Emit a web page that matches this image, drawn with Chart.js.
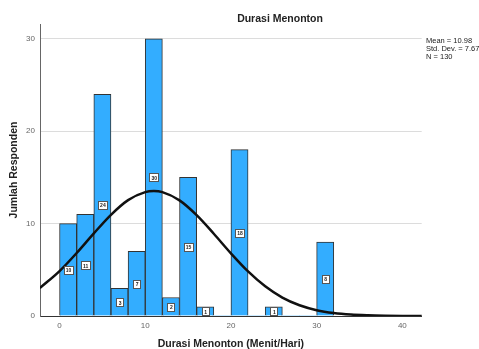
<!DOCTYPE html>
<html><head><meta charset="utf-8">
<script src="https://cdn.jsdelivr.net/npm/chart.js@4/dist/chart.umd.min.js"></script>
<style>
html,body{margin:0;padding:0;background:#fff;}
#wrap{position:relative;width:479px;height:349px;overflow:hidden;}
#title{position:absolute;left:200px;width:160px;top:12px;text-align:center;font:bold 10.5px "Liberation Sans",Arial,sans-serif;color:#222;white-space:nowrap;}
#stats{position:absolute;left:426px;top:37px;font:7.5px "Liberation Sans",Arial,sans-serif;line-height:7.8px;color:#222;white-space:nowrap;}
canvas{position:absolute;left:0;top:0;}
</style>
</head><body>
<div id="wrap">
<canvas id="c" width="479" height="349"></canvas>
<div id="title">Durasi Menonton</div>
<div id="stats">Mean = 10.98<br>Std. Dev. = 7.674<br>N = 130</div>
</div>
<script>
// Histogram bins (2-minute width), centers and counts
const binCenters = [1,3,5,7,9,11,13,15,17,19,21,23,25,27,29,31];
const counts = [10,11,24,3,7,30,2,15,1,0,18,0,1,0,0,8];
// Normal curve points
const curveX = [-2.3,0,2,4,6,8,10,11,12,14,16,18,20,22,24,26,28,30,32,34,36,38,40,42.3];
const curveY = [3.02,4.86,6.82,8.94,10.95,12.54,13.41,13.52,13.40,12.51,10.91,8.90,6.78,4.82,3.21,1.99,1.16,0.63,0.32,0.15,0.07,0.03,0.01,0.00];
const xTicks = [0,10,20,30,40];
const yTicks = [0,10,20,30];

const barData = binCenters.map((x,i)=>({x:x,y:counts[i]}));
const curveData = curveX.map((x,i)=>({x:x,y:curveY[i]}));

const labelPlugin = {
  id:'barLabels',
  afterDatasetsDraw(chart){
    const ctx = chart.ctx;
    const meta = chart.getDatasetMeta(1);
    const ys = chart.scales.y;
    ctx.save();
    meta.data.forEach((bar,i)=>{
      const v = counts[i];
      if(!v) return;
      const cx = bar.x;
      const cy = ys.getPixelForValue(v/2);
      const txt = String(v);
      const w = txt.length>1 ? 9 : 7;
      const h = 8;
      ctx.fillStyle = '#fff';
      ctx.fillRect(Math.round(cx-w/2)+0.5, Math.round(cy-h/2)+0.5, w, h);
      ctx.strokeStyle = '#555';
      ctx.lineWidth = 1;
      ctx.strokeRect(Math.round(cx-w/2)+0.5, Math.round(cy-h/2)+0.5, w, h);
      ctx.fillStyle = '#222';
      ctx.font = 'bold 5px "Liberation Sans", Arial, sans-serif';
      ctx.textAlign = 'center';
      ctx.textBaseline = 'middle';
      ctx.fillText(txt, cx+0.5, cy+1);
    });
    ctx.restore();
  }
};

new Chart(document.getElementById('c'), {
  type:'bar',
  data:{
    datasets:[
      {
        type:'line',
        data:curveData,
        borderColor:'#111',
        borderWidth:2.5,
        pointRadius:0,
        cubicInterpolationMode:'monotone',
        fill:false,
        order:0
      },
      {
        type:'bar',
        data:barData,
        backgroundColor:'#33adff',
        borderColor:'#333',
        borderWidth:ctx=>(ctx.raw && ctx.raw.y>0)?1:0,
        borderSkipped:'bottom',
        barPercentage:1,
        categoryPercentage:1,
        order:1
      }
    ]
  },
  options:{
    responsive:false,
    animation:false,
    events:[],
    layout:{padding:{left:0,right:57.3,top:24,bottom:0}},
    plugins:{legend:{display:false},tooltip:{enabled:false},title:{display:false}},
    scales:{
      x:{
        type:'linear',
        min:-2.28, max:42.26,
        offset:false,
        grid:{display:false, offset:false, drawTicks:false},
        border:{display:true,color:'#333',width:1},
        afterBuildTicks:s=>{s.ticks = xTicks.map(v=>({value:v}));},
        afterFit:s=>{s.height = 33;},
        ticks:{font:{family:'"Liberation Sans", Arial, sans-serif',size:8},color:'#666',padding:5,maxRotation:0,autoSkip:false},
        title:{display:true,text:'Durasi Menonton (Menit/Hari)',font:{family:'"Liberation Sans", Arial, sans-serif',size:10.5,weight:'bold',lineHeight:1},color:'#222',padding:{top:0,bottom:0}}
      },
      y:{
        type:'linear',
        min:0, max:31.6,
        grid:{color:c=>c.tick && c.tick.value===0?'rgba(0,0,0,0)':'#dcdcdc',lineWidth:1,drawTicks:false},
        border:{display:true,color:'#666',width:1},
        afterBuildTicks:s=>{s.ticks = yTicks.map(v=>({value:v}));},
        afterFit:s=>{s.width = 40;},
        ticks:{font:{family:'"Liberation Sans", Arial, sans-serif',size:8},color:'#666',padding:5},
        title:{display:true,text:'Jumlah Responden',font:{family:'"Liberation Sans", Arial, sans-serif',size:10.5,weight:'bold',lineHeight:1.2},color:'#222',padding:{top:8,bottom:0}}
      }
    }
  },
  plugins:[labelPlugin]
});
</script>
</body></html>
